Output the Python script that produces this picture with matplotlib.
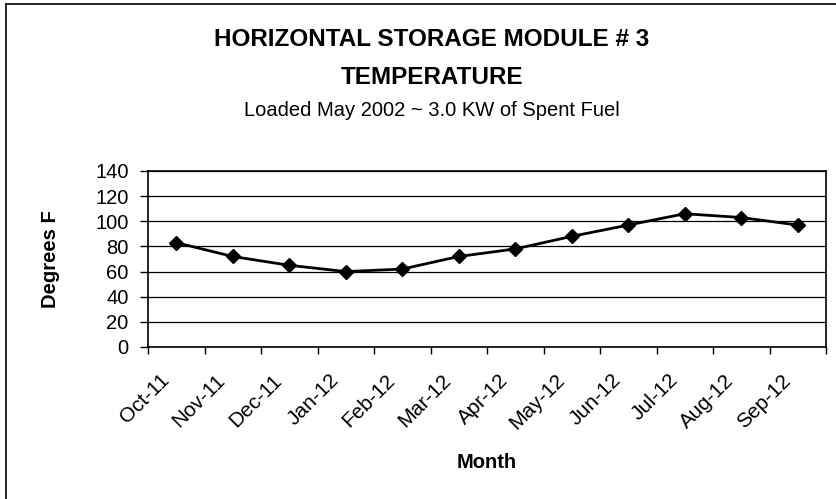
import matplotlib
matplotlib.use("Agg")
import matplotlib.pyplot as plt
from matplotlib.lines import Line2D
import matplotlib.transforms as mtransforms

plt.rcParams['font.family'] = ['Liberation Sans', 'DejaVu Sans']

months = ["Oct-11", "Nov-11", "Dec-11", "Jan-12", "Feb-12", "Mar-12",
          "Apr-12", "May-12", "Jun-12", "Jul-12", "Aug-12", "Sep-12"]
temps = [83, 72, 65, 60, 62, 72, 78, 88, 97, 106, 103, 97]
yticks = [0, 20, 40, 60, 80, 100, 120, 140]

W, H = 836, 499
fig = plt.figure(figsize=(W / 100, H / 100), dpi=100)

# axes placement (pixels -> fractions)
left, right, top, bottom = 148, 826, 171, 347
ax = fig.add_axes([left / W, 1 - bottom / H, (right - left) / W, (bottom - top) / H])

x = list(range(len(months)))
ax.plot(x, temps, color='black', lw=2, marker='D', markersize=7.5,
        markerfacecolor='black', markeredgecolor='black', zorder=3)

ax.set_xlim(-0.5, len(months) - 0.5)
ax.set_ylim(0, 140)
ax.set_yticks(yticks)
ax.set_yticklabels([str(v) for v in yticks], fontsize=14.5)
ax.yaxis.grid(True, color='black', lw=0.9)
ax.set_axisbelow(True)

# category boundaries as x ticks, labels at category centres
ax.set_xticks([i - 0.5 for i in range(len(months) + 1)])
ax.set_xticklabels([])
ax.set_xticks(x, minor=True)
ax.set_xticklabels(months, minor=True, rotation=45, ha='right', va='top',
                   rotation_mode='anchor', fontsize=15)
ax.tick_params(axis='x', which='minor', length=0, pad=17)
ax.tick_params(axis='x', which='major', length=5, width=1, direction='out')
ax.tick_params(axis='y', length=6, width=1, direction='out', pad=8)
offset = mtransforms.ScaledTranslation(-17 / 100, 0, fig.dpi_scale_trans)
for lbl in ax.xaxis.get_minorticklabels():
    lbl.set_transform(lbl.get_transform() + offset)

for s in ax.spines.values():
    s.set_color('black')
    s.set_linewidth(1.2)

fig.text(487 / W, 1 - 462 / H, "Month", ha='center', va='center',
         fontsize=14.5, fontweight='bold')
fig.text(50 / W, 1 - 259 / H, "Degrees F", ha='center', va='center', rotation=90,
         fontsize=14.5, fontweight='bold')

fig.text(432 / W, 1 - 39 / H, "HORIZONTAL STORAGE MODULE # 3", ha='center', va='center',
         fontsize=17.5, fontweight='bold')
fig.text(432 / W, 1 - 78 / H, "TEMPERATURE", ha='center', va='center',
         fontsize=17.5, fontweight='bold')
fig.text(432 / W, 1 - 110 / H, "Loaded May 2002 ~ 3.0 KW of Spent Fuel", ha='center',
         va='center', fontsize=14.5)

# outer chart frame (left and top edges visible)
fig.add_artist(Line2D([6 / W, 6 / W], [0, 1 - 4 / H], color='black', lw=1.2,
                      transform=fig.transFigure))
fig.add_artist(Line2D([6 / W, 1], [1 - 4 / H, 1 - 4 / H], color='black', lw=1.2,
                      transform=fig.transFigure))

fig.savefig("out.png", dpi=100)
